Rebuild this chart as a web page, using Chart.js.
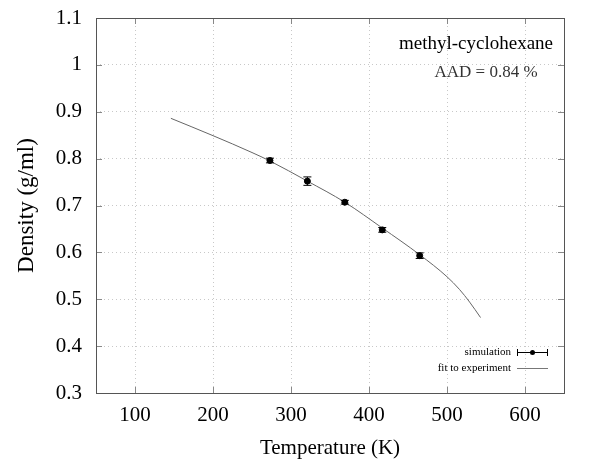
<!DOCTYPE html>
<html>
<head>
<meta charset="utf-8">
<script src="https://cdn.jsdelivr.net/npm/chart.js@4.4.1/dist/chart.umd.min.js"></script>
<style>
    html, body { margin: 0; padding: 0; background: #fff; }
    #wrap { width: 595px; height: 466px; position: relative; }
</style>
</head>
<body>
<div id="wrap"><canvas id="myChart" width="595" height="466"></canvas></div>
<script>
// simulation points (K, g/ml) with error bars
const simTemps = [273, 321, 369, 417, 465];
const simDensity = [0.796, 0.752, 0.707, 0.648, 0.593];
const simError = [0.005, 0.009, 0.004, 0.005, 0.006];

// fitted curve to experimental density
const fitTemps = [146, 200, 250, 273, 321, 369, 417, 465, 500, 516, 529, 543];
const fitDensity = [0.886, 0.849, 0.813, 0.795, 0.752, 0.707, 0.652, 0.595, 0.548, 0.521, 0.494, 0.461];

const xTicks = [100, 200, 300, 400, 500, 600];
const yTicks = [0.3, 0.4, 0.5, 0.6, 0.7, 0.8, 0.9, 1, 1.1];

const serif = "'Liberation Serif', 'DejaVu Serif', serif";

// error bars + inner ticks + frame + legend
const extrasPlugin = {
    id: "extras",
    afterDatasetsDraw(chart) {
        const ctx = chart.ctx;
        const xs = chart.scales.x;
        const ys = chart.scales.y;
        ctx.save();
        ctx.strokeStyle = "#000";
        ctx.lineWidth = 1;
        simTemps.forEach((t, i) => {
            const px = xs.getPixelForValue(t);
            const top = ys.getPixelForValue(simDensity[i] + simError[i]);
            const bot = ys.getPixelForValue(simDensity[i] - simError[i]);
            ctx.beginPath();
            ctx.moveTo(px, top);
            ctx.lineTo(px, bot);
            ctx.moveTo(px - 4, top);
            ctx.lineTo(px + 4, top);
            ctx.moveTo(px - 4, bot);
            ctx.lineTo(px + 4, bot);
            ctx.stroke();
        });
        ctx.restore();
    },
    afterDraw(chart) {
        const ctx = chart.ctx;
        const a = chart.chartArea;
        const xs = chart.scales.x;
        const ys = chart.scales.y;
        ctx.save();
        // tick marks pointing inward on all sides
        ctx.strokeStyle = "#888";
        ctx.lineWidth = 1;
        ctx.beginPath();
        xTicks.forEach((v) => {
            const px = Math.round(xs.getPixelForValue(v)) + 0.5;
            ctx.moveTo(px, a.bottom);
            ctx.lineTo(px, a.bottom - 6);
            ctx.moveTo(px, a.top);
            ctx.lineTo(px, a.top + 6);
        });
        yTicks.forEach((v) => {
            const py = Math.round(ys.getPixelForValue(v)) + 0.5;
            ctx.moveTo(a.left, py);
            ctx.lineTo(a.left + 6, py);
            ctx.moveTo(a.right, py);
            ctx.lineTo(a.right - 6, py);
        });
        ctx.stroke();
        // frame
        ctx.strokeStyle = "#555";
        ctx.strokeRect(Math.round(a.left) + 0.5, Math.round(a.top) + 0.5,
            Math.round(a.right - a.left), Math.round(a.bottom - a.top));

        // compound name and deviation
        ctx.fillStyle = "#000";
        ctx.textAlign = "center";
        ctx.textBaseline = "middle";
        ctx.font = "19px " + serif;
        ctx.fillText("methyl-cyclohexane", 476, 44);
        ctx.fillStyle = "#333";
        ctx.font = "17px " + serif;
        ctx.fillText("AAD = 0.84 %", 486, 73);

        // legend
        ctx.fillStyle = "#000";
        ctx.font = "11px " + serif;
        ctx.textAlign = "right";
        ctx.fillText("simulation", 511, 352);
        ctx.fillText("fit to experiment", 511, 368);
        ctx.strokeStyle = "#000";
        ctx.beginPath();
        ctx.moveTo(517, 352.5);
        ctx.lineTo(548, 352.5);
        ctx.moveTo(517.5, 349);
        ctx.lineTo(517.5, 356);
        ctx.moveTo(547.5, 349);
        ctx.lineTo(547.5, 356);
        ctx.stroke();
        ctx.beginPath();
        ctx.arc(532.5, 352.5, 2.5, 0, Math.PI * 2);
        ctx.fill();
        ctx.strokeStyle = "#777";
        ctx.beginPath();
        ctx.moveTo(517, 368.5);
        ctx.lineTo(548, 368.5);
        ctx.stroke();
        ctx.restore();
    },
};

const ctx = document.getElementById("myChart").getContext("2d");
new Chart(ctx, {
    type: "scatter",
    data: {
        datasets: [
            {
                label: "fit to experiment",
                data: fitTemps.map((t, i) => ({ x: t, y: fitDensity[i] })),
                showLine: true,
                borderColor: "#666",
                borderWidth: 1,
                pointRadius: 0,
                cubicInterpolationMode: "monotone",
                order: 2,
            },
            {
                label: "simulation",
                data: simTemps.map((t, i) => ({ x: t, y: simDensity[i] })),
                backgroundColor: "#000",
                borderColor: "#000",
                pointRadius: 3,
                order: 1,
            },
        ],
    },
    options: {
        responsive: false,
        animation: false,
        devicePixelRatio: 1,
        layout: { padding: { left: 0, right: 31, top: 18, bottom: 0 } },
        plugins: {
            legend: { display: false },
            tooltip: { enabled: false },
        },
        scales: {
            x: {
                type: "linear",
                min: 50,
                max: 650,
                afterBuildTicks: (scale) => {
                    scale.ticks = xTicks.map((v) => ({ value: v }));
                },
                afterFit: (scale) => {
                    scale.height = 73;
                    scale.paddingLeft = 0;
                    scale.paddingRight = 0;
                },
                grid: {
                    color: "#c8c8c8",
                    drawTicks: false,
                },
                border: { display: false, dash: [1, 3] },
                ticks: {
                    color: "#000",
                    padding: 10,
                    font: { family: serif, size: 21 },
                },
                title: {
                    display: true,
                    text: "Temperature (K)",
                    color: "#000",
                    font: { family: serif, size: 21 },
                    padding: { top: 0, bottom: 5 },
                },
            },
            y: {
                type: "linear",
                min: 0.3,
                max: 1.1,
                afterBuildTicks: (scale) => {
                    scale.ticks = yTicks.map((v) => ({ value: v }));
                },
                afterFit: (scale) => {
                    scale.width = 96;
                    scale.paddingTop = 0;
                    scale.paddingBottom = 0;
                },
                grid: {
                    color: "#c8c8c8",
                    drawTicks: false,
                },
                border: { display: false, dash: [1, 3] },
                ticks: {
                    color: "#000",
                    padding: 14,
                    font: { family: serif, size: 21 },
                    callback: (v) => String(+v.toFixed(1)),
                },
                title: {
                    display: true,
                    text: "Density (g/ml)",
                    color: "#000",
                    font: { family: serif, size: 23 },
                    padding: { top: 13, bottom: 0 },
                },
            },
        },
    },
    plugins: [extrasPlugin],
});
</script>
</body>
</html>
